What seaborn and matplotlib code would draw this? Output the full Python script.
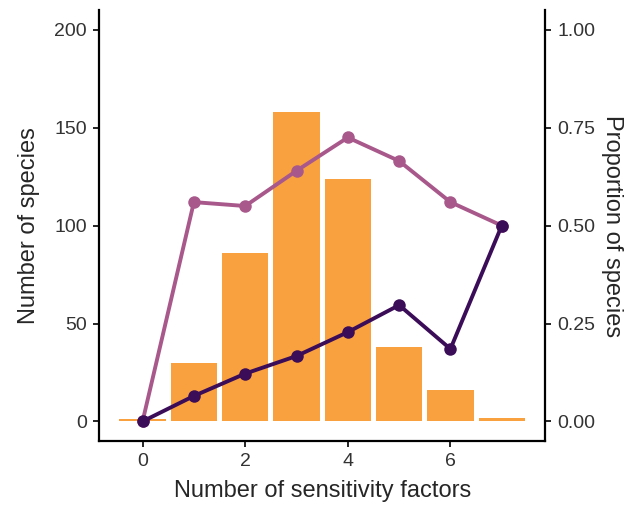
import matplotlib
matplotlib.use("Agg")
import matplotlib.pyplot as plt
import seaborn as sns
import pandas as pd

# number of sensitivity factors
factors = [0, 1, 2, 3, 4, 5, 6, 7]
# number of species per factor count (bars, left axis)
n_species = [1, 30, 86, 158, 124, 38, 16, 1.5]
# proportions (lines, right axis)
prop_pink = [0.0, 0.56, 0.55, 0.64, 0.725, 0.665, 0.56, 0.50]
prop_dark = [0.0, 0.065, 0.122, 0.167, 0.228, 0.297, 0.185, 0.50]

orange = "#F9A03F"
pink = "#A8588B"
dark = "#3B0C58"

sns.set_style("ticks")
plt.rcParams["font.family"] = ["Liberation Sans", "DejaVu Sans"]

bars = pd.DataFrame({"factors": factors, "species": n_species})
lines = pd.DataFrame({
    "factors": factors + factors,
    "prop": prop_pink + prop_dark,
    "group": ["pink"] * len(factors) + ["dark"] * len(factors),
})

fig = plt.figure(figsize=(6.28, 5.11), dpi=100)
ax = fig.add_axes([0.158, 0.137, 0.71, 0.843])

sns.barplot(data=bars, x="factors", y="species", native_scale=True,
            width=0.9, color=orange, saturation=1, linewidth=0, ax=ax)

ax2 = ax.twinx()
sns.lineplot(data=lines, x="factors", y="prop", hue="group",
             palette={"pink": pink, "dark": dark}, hue_order=["pink", "dark"],
             marker="o", markersize=9, markeredgewidth=0, linewidth=2.8,
             legend=False, ax=ax2)

ax.set_xlim(-0.845, 7.845)
ax.set_ylim(-10, 210)
ax2.set_ylim(-0.05, 1.05)
ax.set_xticks([0, 2, 4, 6])
ax.set_yticks([0, 50, 100, 150, 200])
ax2.set_yticks([0, 0.25, 0.5, 0.75, 1.0])
ax2.set_yticklabels(["0.00", "0.25", "0.50", "0.75", "1.00"])

for a in (ax, ax2):
    for s in a.spines.values():
        s.set_linewidth(1.6)
        s.set_color("black")
    a.spines["top"].set_visible(False)
    a.tick_params(width=1.2, length=4, pad=5, labelsize=14, colors="black",
                  labelcolor="#333333")
ax.spines["right"].set_visible(False)
ax2.spines["left"].set_visible(False)
ax2.spines["bottom"].set_visible(False)

ax.set_xlabel("Number of sensitivity factors", fontsize=17, labelpad=7)
ax.set_ylabel("Number of species", fontsize=17, labelpad=10)
ax2.set_ylabel("Proportion of species", fontsize=17, rotation=270, labelpad=20)

fig.savefig("out.png", dpi=100)
